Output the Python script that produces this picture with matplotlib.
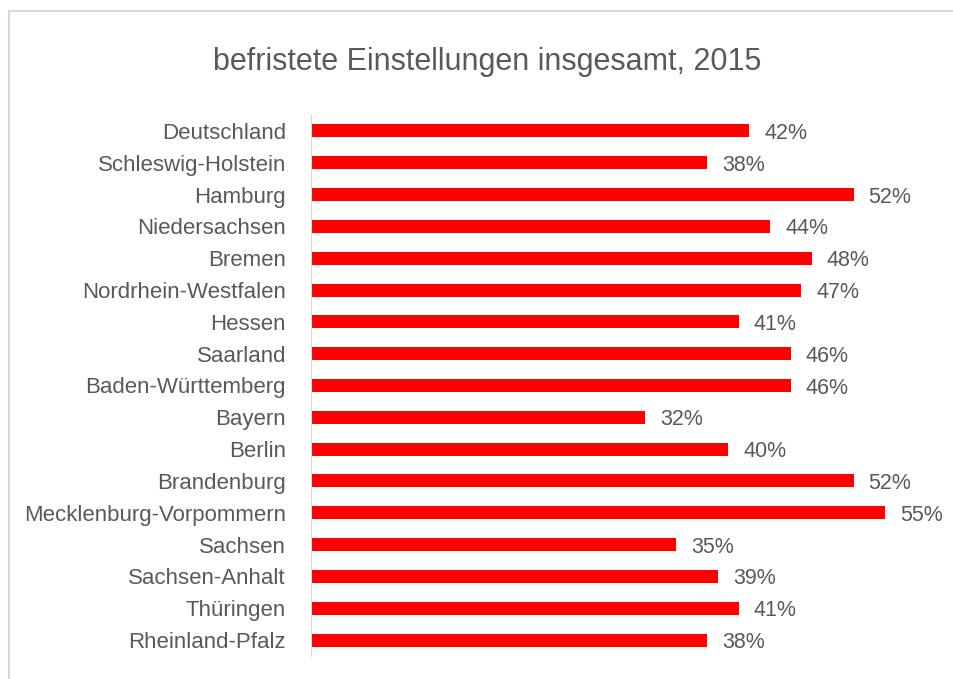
import matplotlib
matplotlib.use("Agg")
import matplotlib.pyplot as plt
from matplotlib.patches import Rectangle
from matplotlib import font_manager

# data
laender = ["Deutschland", "Schleswig-Holstein", "Hamburg", "Niedersachsen", "Bremen",
           "Nordrhein-Westfalen", "Hessen", "Saarland", "Baden-Württemberg", "Bayern",
           "Berlin", "Brandenburg", "Mecklenburg-Vorpommern", "Sachsen", "Sachsen-Anhalt",
           "Thüringen", "Rheinland-Pfalz"]
anteil = [42, 38, 52, 44, 48, 47, 41, 46, 46, 32, 40, 52, 55, 35, 39, 41, 38]

names = {f.name for f in font_manager.fontManager.ttflist}
fam = "Liberation Sans Narrow" if "Liberation Sans Narrow" in names else "Liberation Sans"
plt.rcParams["font.family"] = [fam, "DejaVu Sans"]

grey = "#595959"
fig = plt.figure(figsize=(9.54, 6.79), dpi=100)
fig.patches.append(Rectangle((9 / 954, -0.1), 1.1, 1 - 11 / 679 + 0.1, transform=fig.transFigure,
                             fill=False, edgecolor="#d9d9d9", linewidth=1.5))
ax = fig.add_axes([311 / 954, 23 / 679, 626 / 954, 541 / 679])

y = list(range(len(laender)))
ax.barh(y, anteil, height=0.41, color="#ff0000")
for yi, v in zip(y, anteil):
    ax.annotate(f"{v}%", (v, yi), xytext=(15, -2.5), textcoords="offset pixels",
                va="center", ha="left", fontsize=15.5, color=grey)

ax.set_ylim(16.5, -0.5)
ax.set_xlim(0, 60)
ax.set_yticks(y)
ax.set_yticklabels(laender, fontsize=16, color=grey)
ax.tick_params(axis="y", length=0, pad=18)
ax.set_xticks([])
for s in ["top", "right", "bottom"]:
    ax.spines[s].set_visible(False)
ax.spines["left"].set_color("#d9d9d9")

fig.text(487 / 954, 1 - 62 / 679, "befristete Einstellungen insgesamt, 2015", ha="center", va="center",
         fontsize=22, color=grey)

fig.savefig("out.png", dpi=100)
